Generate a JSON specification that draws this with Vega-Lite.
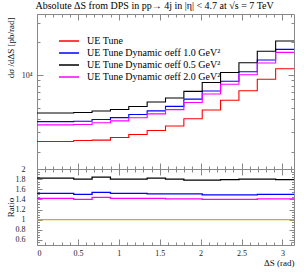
{
  "$schema": "https://vega.github.io/schema/vega-lite/v6.json",
  "padding": {"left": 5, "top": 1, "right": 5, "bottom": 2},
  "config": {"font": "Liberation Serif", "view": {"stroke": "#888"}, "axis": {"tickColor": "#888", "labelColor": "#222", "titleColor": "#111", "domain": false, "grid": false, "minExtent": 0, "offset": 0}},
  "title": {"text": "Absolute ΔS from DPS in pp→ 4j in |η| < 4.7 at √s = 7 TeV", "fontSize": 10, "fontWeight": "normal", "anchor": "start", "offset": 2, "dx": 30},
  "spacing": 0,
  "bounds": "flush",
  "resolve": {"scale": {"color": "independent"}},
  "datasets": {
    "d": [
      {"s": "UE Tune", "x": 0, "v": 2473, "r": 1},
      {"s": "UE Tune", "x": 0.2244, "v": 2473, "r": 1},
      {"s": "UE Tune", "x": 0.4488, "v": 2527, "r": 1},
      {"s": "UE Tune", "x": 0.6732, "v": 2551, "r": 1},
      {"s": "UE Tune", "x": 0.8976, "v": 2691, "r": 1},
      {"s": "UE Tune", "x": 1.122, "v": 2867, "r": 1},
      {"s": "UE Tune", "x": 1.3464, "v": 3116, "r": 1},
      {"s": "UE Tune", "x": 1.5708, "v": 3426, "r": 1},
      {"s": "UE Tune", "x": 1.7952, "v": 3989, "r": 1},
      {"s": "UE Tune", "x": 2.0196, "v": 4799, "r": 1},
      {"s": "UE Tune", "x": 2.244, "v": 5888, "r": 1},
      {"s": "UE Tune", "x": 2.4684, "v": 7192, "r": 1},
      {"s": "UE Tune", "x": 2.6928, "v": 9140, "r": 1},
      {"s": "UE Tune", "x": 2.9172, "v": 11412, "r": 1},
      {"s": "UE Tune", "x": 3.1416, "v": 11412, "r": 1},
      {"s": "UE Tune Dynamic σeff 1.0 GeV²", "x": 0, "v": 3759, "r": 1.52},
      {"s": "UE Tune Dynamic σeff 1.0 GeV²", "x": 0.2244, "v": 3759, "r": 1.52},
      {"s": "UE Tune Dynamic σeff 1.0 GeV²", "x": 0.4488, "v": 3791, "r": 1.5},
      {"s": "UE Tune Dynamic σeff 1.0 GeV²", "x": 0.6732, "v": 3929, "r": 1.54},
      {"s": "UE Tune Dynamic σeff 1.0 GeV²", "x": 0.8976, "v": 4090, "r": 1.52},
      {"s": "UE Tune Dynamic σeff 1.0 GeV²", "x": 1.122, "v": 4358, "r": 1.52},
      {"s": "UE Tune Dynamic σeff 1.0 GeV²", "x": 1.3464, "v": 4705, "r": 1.51},
      {"s": "UE Tune Dynamic σeff 1.0 GeV²", "x": 1.5708, "v": 5173, "r": 1.51},
      {"s": "UE Tune Dynamic σeff 1.0 GeV²", "x": 1.7952, "v": 6023, "r": 1.51},
      {"s": "UE Tune Dynamic σeff 1.0 GeV²", "x": 2.0196, "v": 7151, "r": 1.49},
      {"s": "UE Tune Dynamic σeff 1.0 GeV²", "x": 2.244, "v": 8773, "r": 1.49},
      {"s": "UE Tune Dynamic σeff 1.0 GeV²", "x": 2.4684, "v": 10716, "r": 1.49},
      {"s": "UE Tune Dynamic σeff 1.0 GeV²", "x": 2.6928, "v": 13710, "r": 1.5},
      {"s": "UE Tune Dynamic σeff 1.0 GeV²", "x": 2.9172, "v": 17118, "r": 1.5},
      {"s": "UE Tune Dynamic σeff 1.0 GeV²", "x": 3.1416, "v": 17118, "r": 1.5},
      {"s": "UE Tune Dynamic σeff 0.5 GeV²", "x": 0, "v": 4500, "r": 1.82},
      {"s": "UE Tune Dynamic σeff 0.5 GeV²", "x": 0.2244, "v": 4500, "r": 1.82},
      {"s": "UE Tune Dynamic σeff 0.5 GeV²", "x": 0.4488, "v": 4548, "r": 1.8},
      {"s": "UE Tune Dynamic σeff 0.5 GeV²", "x": 0.6732, "v": 4694, "r": 1.84},
      {"s": "UE Tune Dynamic σeff 0.5 GeV²", "x": 0.8976, "v": 4844, "r": 1.8},
      {"s": "UE Tune Dynamic σeff 0.5 GeV²", "x": 1.122, "v": 5160, "r": 1.8},
      {"s": "UE Tune Dynamic σeff 0.5 GeV²", "x": 1.3464, "v": 5671, "r": 1.82},
      {"s": "UE Tune Dynamic σeff 0.5 GeV²", "x": 1.5708, "v": 6167, "r": 1.8},
      {"s": "UE Tune Dynamic σeff 0.5 GeV²", "x": 1.7952, "v": 7100, "r": 1.78},
      {"s": "UE Tune Dynamic σeff 0.5 GeV²", "x": 2.0196, "v": 8543, "r": 1.78},
      {"s": "UE Tune Dynamic σeff 0.5 GeV²", "x": 2.244, "v": 10540, "r": 1.79},
      {"s": "UE Tune Dynamic σeff 0.5 GeV²", "x": 2.4684, "v": 12946, "r": 1.8},
      {"s": "UE Tune Dynamic σeff 0.5 GeV²", "x": 2.6928, "v": 16452, "r": 1.8},
      {"s": "UE Tune Dynamic σeff 0.5 GeV²", "x": 2.9172, "v": 20428, "r": 1.79},
      {"s": "UE Tune Dynamic σeff 0.5 GeV²", "x": 3.1416, "v": 20428, "r": 1.79},
      {"s": "UE Tune Dynamic σeff 2.0 GeV²", "x": 0, "v": 3512, "r": 1.42},
      {"s": "UE Tune Dynamic σeff 2.0 GeV²", "x": 0.2244, "v": 3512, "r": 1.42},
      {"s": "UE Tune Dynamic σeff 2.0 GeV²", "x": 0.4488, "v": 3538, "r": 1.4},
      {"s": "UE Tune Dynamic σeff 2.0 GeV²", "x": 0.6732, "v": 3673, "r": 1.44},
      {"s": "UE Tune Dynamic σeff 2.0 GeV²", "x": 0.8976, "v": 3821, "r": 1.42},
      {"s": "UE Tune Dynamic σeff 2.0 GeV²", "x": 1.122, "v": 4071, "r": 1.42},
      {"s": "UE Tune Dynamic σeff 2.0 GeV²", "x": 1.3464, "v": 4425, "r": 1.42},
      {"s": "UE Tune Dynamic σeff 2.0 GeV²", "x": 1.5708, "v": 4831, "r": 1.41},
      {"s": "UE Tune Dynamic σeff 2.0 GeV²", "x": 1.7952, "v": 5624, "r": 1.41},
      {"s": "UE Tune Dynamic σeff 2.0 GeV²", "x": 2.0196, "v": 6719, "r": 1.4},
      {"s": "UE Tune Dynamic σeff 2.0 GeV²", "x": 2.244, "v": 8243, "r": 1.4},
      {"s": "UE Tune Dynamic σeff 2.0 GeV²", "x": 2.4684, "v": 10069, "r": 1.4},
      {"s": "UE Tune Dynamic σeff 2.0 GeV²", "x": 2.6928, "v": 12887, "r": 1.41},
      {"s": "UE Tune Dynamic σeff 2.0 GeV²", "x": 2.9172, "v": 16091, "r": 1.41},
      {"s": "UE Tune Dynamic σeff 2.0 GeV²", "x": 3.1416, "v": 16091, "r": 1.41}
    ]
  },
  "vconcat": [
    {
      "width": 257,
      "height": 155,
      "data": {"name": "d"},
      "resolve": {"axis": {"x": "independent", "y": "independent"}},
      "layer": [
        {
          "mark": {"type": "line", "interpolate": "step-after", "strokeWidth": 1.1},
          "encoding": {
            "x": {"field": "x", "type": "quantitative", "scale": {"domain": [0, 3.1416], "nice": false, "zero": false},
                  "axis": {"orient": "bottom", "values": [0, 0.5, 1, 1.5, 2, 2.5, 3], "tickSize": -6, "labels": false, "title": null}},
            "y": {"field": "v", "type": "quantitative", "scale": {"type": "log", "domain": [1390, 36000], "nice": false},
                  "axis": {"orient": "left", "values": [10000], "labelExpr": "'10⁴'", "ticks": false, "labelFontSize": 8, "labelPadding": 5,
                           "title": "dσ /dΔS [pb/rad]", "titleFontSize": 9, "titleFontWeight": "normal", "titleAngle": -90, "titleX": -27, "titleY": 3, "titleAlign": "right", "titleBaseline": "middle"}},
            "color": {"field": "s", "type": "nominal",
                      "scale": {"domain": ["UE Tune", "UE Tune Dynamic σeff 1.0 GeV²", "UE Tune Dynamic σeff 0.5 GeV²", "UE Tune Dynamic σeff 2.0 GeV²"], "range": ["#ff0000", "#0000ff", "#000000", "#ff00ff"]},
                      "legend": {"orient": "none", "legendX": 26, "legendY": 21, "title": null, "symbolType": "M-2,0H2", "symbolSize": 100, "symbolStrokeWidth": 1.5, "labelFontSize": 10, "rowPadding": 1, "labelOffset": 12, "labelColor": "#000"}}
          }
        },
        {
          "mark": {"type": "line", "opacity": 0},
          "encoding": {
            "x": {"field": "x", "type": "quantitative", "scale": {"domain": [0, 3.1416], "nice": false, "zero": false},
                  "axis": {"orient": "bottom", "values": [0.1,0.2,0.3,0.4,0.6,0.7,0.8,0.9,1.1,1.2,1.3,1.4,1.6,1.7,1.8,1.9,2.1,2.2,2.3,2.4,2.6,2.7,2.8,2.9,3.1], "tickSize": -3, "labels": false, "title": null}},
            "y": {"field": "v", "type": "quantitative", "scale": {"type": "log", "domain": [1390, 36000], "nice": false},
                  "axis": {"orient": "left", "values": [10000], "tickSize": -6, "labels": false, "title": null}}
          }
        },
        {
          "mark": {"type": "line", "opacity": 0},
          "encoding": {
            "x": {"field": "x", "type": "quantitative", "scale": {"domain": [0, 3.1416], "nice": false, "zero": false},
                  "axis": {"orient": "top", "values": [0, 0.5, 1, 1.5, 2, 2.5, 3], "tickSize": -6, "labels": false, "title": null}},
            "y": {"field": "v", "type": "quantitative", "scale": {"type": "log", "domain": [1390, 36000], "nice": false},
                  "axis": {"orient": "left", "values": [2000,3000,4000,5000,6000,7000,8000,9000,20000,30000], "tickSize": -3, "labels": false, "title": null}}
          }
        },
        {
          "mark": {"type": "line", "opacity": 0},
          "encoding": {
            "x": {"field": "x", "type": "quantitative", "scale": {"domain": [0, 3.1416], "nice": false, "zero": false},
                  "axis": {"orient": "top", "values": [0.1,0.2,0.3,0.4,0.6,0.7,0.8,0.9,1.1,1.2,1.3,1.4,1.6,1.7,1.8,1.9,2.1,2.2,2.3,2.4,2.6,2.7,2.8,2.9,3.1], "tickSize": -3, "labels": false, "title": null}},
            "y": {"field": "v", "type": "quantitative", "scale": {"type": "log", "domain": [1390, 36000], "nice": false},
                  "axis": {"orient": "right", "values": [10000], "tickSize": -6, "labels": false, "title": null}}
          }
        },
        {
          "mark": {"type": "line", "opacity": 0},
          "encoding": {
            "x": {"field": "x", "type": "quantitative", "scale": {"domain": [0, 3.1416], "nice": false, "zero": false}, "axis": null},
            "y": {"field": "v", "type": "quantitative", "scale": {"type": "log", "domain": [1390, 36000], "nice": false},
                  "axis": {"orient": "right", "values": [2000,3000,4000,5000,6000,7000,8000,9000,20000,30000], "tickSize": -3, "labels": false, "title": null}}
          }
        }
      ]
    },
    {
      "width": 257,
      "height": 76,
      "data": {"name": "d"},
      "resolve": {"axis": {"x": "independent", "y": "independent"}},
      "layer": [
        {
          "mark": {"type": "line", "interpolate": "step-after", "strokeWidth": 1.3},
          "encoding": {
            "x": {"field": "x", "type": "quantitative", "scale": {"domain": [0, 3.1416], "nice": false, "zero": false},
                  "axis": {"orient": "bottom", "values": [0, 0.5, 1, 1.5, 2, 2.5, 3], "format": "~g", "ticks": false, "labelFontSize": 8, "labelPadding": 4,
                           "title": "ΔS (rad)", "titleFontSize": 9, "titleFontWeight": "normal", "titleAnchor": "end", "titlePadding": 1}},
            "y": {"field": "r", "type": "quantitative", "scale": {"domain": [0.5, 2.0], "nice": false, "zero": false},
                  "axis": {"orient": "left", "values": [0.6, 0.8, 1, 1.2, 1.4, 1.6, 1.8, 2], "format": "~g", "ticks": false, "labelFontSize": 8, "labelPadding": 12,
                           "title": "Ratio", "titleFontSize": 9, "titleFontWeight": "normal", "titleAngle": -90, "titleX": -27, "titleBaseline": "middle"}},
            "color": {"field": "s", "type": "nominal",
                      "scale": {"domain": ["UE Tune", "UE Tune Dynamic σeff 1.0 GeV²", "UE Tune Dynamic σeff 0.5 GeV²", "UE Tune Dynamic σeff 2.0 GeV²"], "range": ["#bcbc00", "#0000ff", "#000000", "#ff00ff"]},
                      "legend": null}
          }
        },
        {
          "mark": {"type": "line", "opacity": 0},
          "encoding": {
            "x": {"field": "x", "type": "quantitative", "scale": {"domain": [0, 3.1416], "nice": false, "zero": false},
                  "axis": {"orient": "bottom", "values": [0, 0.5, 1, 1.5, 2, 2.5, 3], "tickSize": -6, "labels": false, "title": null}},
            "y": {"field": "r", "type": "quantitative", "scale": {"domain": [0.5, 2.0], "nice": false, "zero": false},
                  "axis": {"orient": "left", "values": [0.6, 0.8, 1, 1.2, 1.4, 1.6, 1.8, 2], "tickSize": -5, "labels": false, "title": null}}
          }
        },
        {
          "mark": {"type": "line", "opacity": 0},
          "encoding": {
            "x": {"field": "x", "type": "quantitative", "scale": {"domain": [0, 3.1416], "nice": false, "zero": false},
                  "axis": {"orient": "bottom", "values": [0.1,0.2,0.3,0.4,0.6,0.7,0.8,0.9,1.1,1.2,1.3,1.4,1.6,1.7,1.8,1.9,2.1,2.2,2.3,2.4,2.6,2.7,2.8,2.9,3.1], "tickSize": -3, "labels": false, "title": null}},
            "y": {"field": "r", "type": "quantitative", "scale": {"domain": [0.5, 2.0], "nice": false, "zero": false},
                  "axis": {"orient": "left", "values": [0.55,0.65,0.7,0.75,0.85,0.9,0.95,1.05,1.1,1.15,1.25,1.3,1.35,1.45,1.5,1.55,1.65,1.7,1.75,1.85,1.9,1.95], "tickSize": -2.5, "labels": false, "title": null}}
          }
        },
        {
          "mark": {"type": "line", "opacity": 0},
          "encoding": {
            "x": {"field": "x", "type": "quantitative", "scale": {"domain": [0, 3.1416], "nice": false, "zero": false},
                  "axis": {"orient": "top", "values": [0, 0.5, 1, 1.5, 2, 2.5, 3], "tickSize": -6, "labels": false, "title": null}},
            "y": {"field": "r", "type": "quantitative", "scale": {"domain": [0.5, 2.0], "nice": false, "zero": false},
                  "axis": {"orient": "right", "values": [0.6, 0.8, 1, 1.2, 1.4, 1.6, 1.8, 2], "tickSize": -5, "labels": false, "title": null}}
          }
        },
        {
          "mark": {"type": "line", "opacity": 0},
          "encoding": {
            "x": {"field": "x", "type": "quantitative", "scale": {"domain": [0, 3.1416], "nice": false, "zero": false},
                  "axis": {"orient": "top", "values": [0.1,0.2,0.3,0.4,0.6,0.7,0.8,0.9,1.1,1.2,1.3,1.4,1.6,1.7,1.8,1.9,2.1,2.2,2.3,2.4,2.6,2.7,2.8,2.9,3.1], "tickSize": -3, "labels": false, "title": null}},
            "y": {"field": "r", "type": "quantitative", "scale": {"domain": [0.5, 2.0], "nice": false, "zero": false},
                  "axis": {"orient": "right", "values": [0.55,0.65,0.7,0.75,0.85,0.9,0.95,1.05,1.1,1.15,1.25,1.3,1.35,1.45,1.5,1.55,1.65,1.7,1.75,1.85,1.9,1.95], "tickSize": -2.5, "labels": false, "title": null}}
          }
        }
      ]
    }
  ]
}
